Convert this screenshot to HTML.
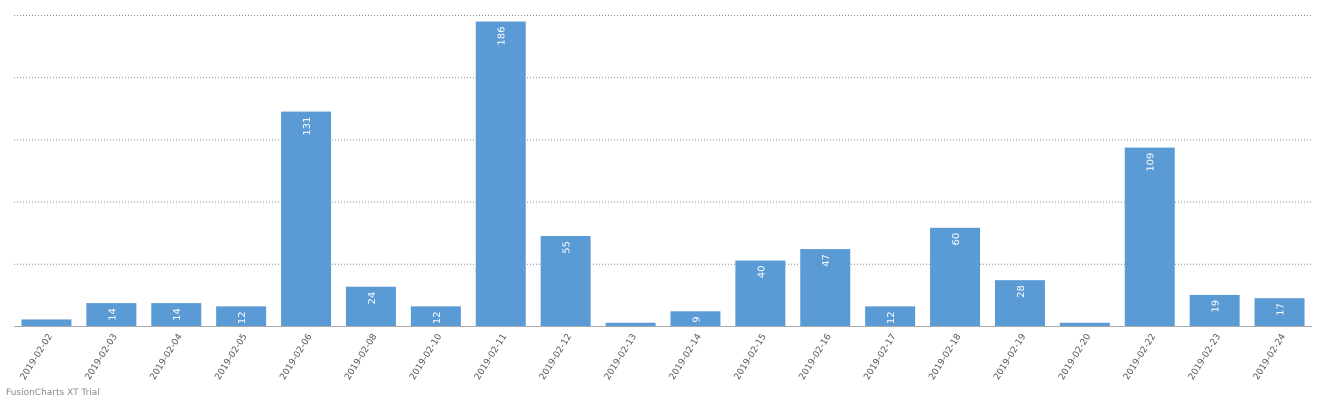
<!DOCTYPE html>
<html><head><meta charset="utf-8"><style>
html,body{margin:0;padding:0;background:#fff;}
svg{display:block;font-family:"DejaVu Sans","Liberation Sans",sans-serif;}
</style></head><body>
<svg id="chart" width="1327" height="400"></svg>
<script>
const categories=["2019-02-02","2019-02-03","2019-02-04","2019-02-05","2019-02-06","2019-02-08","2019-02-10","2019-02-11","2019-02-12","2019-02-13","2019-02-14","2019-02-15","2019-02-16","2019-02-17","2019-02-18","2019-02-19","2019-02-20","2019-02-22","2019-02-23","2019-02-24"];
const values=[4,14,14,12,131,24,12,186,55,2,9,40,47,12,60,28,2,109,19,17];
const valueLabels=["","14","14","12","131","24","12","186","55","","9","40","47","12","60","28","","109","19","17"];
const yMax=190, yTicks=[0,38,76,114,152,190];
const NS="http://www.w3.org/2000/svg";
const svg=document.getElementById('chart');
const L=14,R=1312,T=15,B=326;
const slot=(R-L)/categories.length, bw=50;
const y=v=>B-(v/yMax)*(B-T);
const xc=i=>L+slot*(i+0.5);
function mk(t,a){const e=document.createElementNS(NS,t);for(const k in a)e.setAttribute(k,a[k]);svg.appendChild(e);return e;}
yTicks.forEach((t,i)=>{if(t===0)return;
 const g=mk('line',{x1:L,x2:R,y1:y(t)+0.5,y2:y(t)+0.5,stroke:'#8a8a8a','stroke-width':1,'stroke-dasharray':'1,2'});
 
 });
values.forEach((v,i)=>{
 const r=mk('rect',{x:xc(i)-bw/2,y:y(v),width:bw,height:B-y(v),fill:'#5b9bd5'});
 
 
 if(valueLabels[i]){
  const tx=xc(i)+4, ty=y(v)+5;
  const t=mk('text',{x:tx,y:ty,fill:'#fff','font-size':10,'text-anchor':'end',transform:`rotate(-90 ${tx} ${ty})`});
  t.textContent=valueLabels[i];
  
  
 }
 const lx=xc(i)+6, ly=336;
 const c=mk('text',{x:lx,y:ly,fill:'#555','font-size':9,'text-anchor':'end',transform:`rotate(-58 ${lx} ${ly})`});
 c.textContent=categories[i];
 
 
});
const ax=mk('line',{x1:L,x2:R,y1:B+0.5,y2:B+0.5,stroke:'#aaa','stroke-width':1});


const w=mk('text',{x:6,y:395,fill:'#888','font-size':9});
w.textContent='FusionCharts XT Trial';


</script>
</body></html>
